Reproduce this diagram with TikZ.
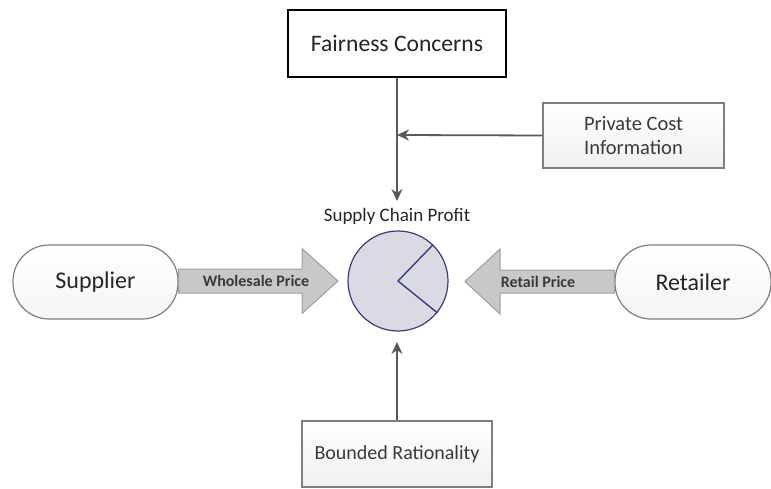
\documentclass[tikz,border=0pt]{standalone}
\usepackage{fontspec}
\setmainfont{Carlito}
\usetikzlibrary{arrows.meta,calc}
\definecolor{txt}{HTML}{262626}
\definecolor{txtg}{HTML}{3A3A3A}
\definecolor{linec}{HTML}{595959}
\definecolor{boxline}{HTML}{7F7F7F}
\definecolor{piefill}{HTML}{DADAE2}
\definecolor{pieline}{HTML}{3C3C80}
\definecolor{barrow}{HTML}{C8C8C8}
\tikzset{
  plainbox/.style={draw=black, line width=1.2pt, fill=white, minimum width=218pt, minimum height=67pt, font=\fontsize{23.6}{28}\selectfont, text=txt},
  graybox/.style={draw=boxline, line width=1.2pt, top color=white, bottom color=gray!12, align=center, text=txtg},
  pill/.style={draw=boxline, line width=1.2pt, top color=white, bottom color=gray!8, rounded corners=36pt, font=\fontsize{24}{28}\selectfont, text=txt},
  conn/.style={draw=linec, line width=1.8pt, -{Stealth[length=12pt,width=11pt]}},
  blockarrow/.style={draw=gray!75, line width=1pt, fill=barrow},
  arrowtext/.style={font=\bfseries\fontsize{16}{19}\selectfont, text=txtg},
}
\begin{document}
\begin{tikzpicture}[x=1pt,y=-1pt]
\useasboundingbox (0,0) rectangle (771,489);
% nodes
\node[plainbox] (fc) at (397,43.5) {Fairness Concerns};
\node[graybox, minimum width=181pt, minimum height=65pt, font=\fontsize{20.5}{24}\selectfont] (pc) at (633.5,135.5) {Private Cost\\Information};
\node[graybox, minimum width=190pt, minimum height=66pt, font=\fontsize{20}{24}\selectfont] (br) at (397,454) {Bounded Rationality};
\node[pill, minimum width=165pt, minimum height=74pt] (sup) at (95.5,282) {Supplier};
\node[pill, minimum width=156pt, minimum height=74pt] (ret) at (693,282) {Retailer};
\node[font=\fontsize{19}{23}\selectfont, text=txt] (lbl) at (397,216) {Supply Chain Profit};
\node[circle, draw=pieline, line width=1.2pt, fill=piefill, minimum size=100pt, inner sep=0pt] (pie) at (398,281) {};
\draw[pieline, line width=1.4pt] (pie.46) -- (pie.center) -- (pie.-39);
% connectors
\coordinate (meet) at (397,135);
\coordinate (downtip) at (397,201);
\coordinate (uptip) at (397,342);
\draw[conn] (fc.south) -- (downtip);
\draw[conn] (pc.west) -- (meet);
\draw[conn] (br.north) -- (uptip);
% block arrows
\draw[blockarrow] (sup.east |- 0,269) -- (302,269) -- (302,248.5) -- (338,281) -- (302,313.5) -- (302,293) -- (sup.east |- 0,293) -- cycle;
\node[arrowtext] (wp) at (256,281) {Wholesale Price};
\draw[blockarrow] (ret.west |- 0,270) -- (500,270) -- (500,249) -- (465,281.5) -- (500,314) -- (500,293) -- (ret.west |- 0,293) -- cycle;
\node[arrowtext] (rp) at (538,282) {Retail Price};
\end{tikzpicture}
\end{document}
